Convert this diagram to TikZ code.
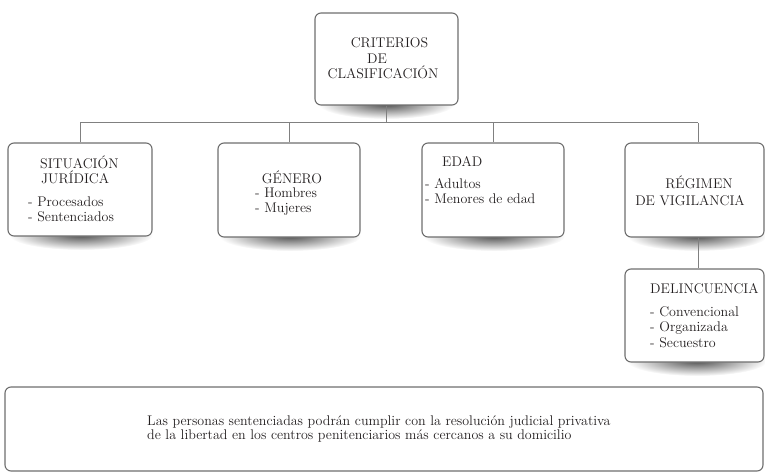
\documentclass[tikz,border=0pt]{standalone}
\definecolor{boxgray}{HTML}{6E6E6E}
\definecolor{linegray}{HTML}{808080}
\definecolor{txtgray}{HTML}{231F20}
\tikzset{
  box/.style={draw=boxgray, line width=1.1pt, rounded corners=6pt, fill=white, inner sep=0pt},
  txt/.style={inner sep=0pt, text=txtgray, font=\fontsize{14}{15}\selectfont},
  conn/.style={draw=linegray, line width=1pt},
  shad/.style={inner color=black!68, outer color=white},
}
\begin{document}
\begin{tikzpicture}[x=1pt,y=-1pt]
\useasboundingbox (0,0) rectangle (765,473);

% shadows
\shade[shad] (386.5,104) ellipse (68 and 15);
\shade[shad] (81,235) ellipse (72 and 15);
\shade[shad] (290,236) ellipse (71 and 15);
\shade[shad] (494,236) ellipse (71 and 15);
\shade[shad] (697,236) ellipse (70 and 15);
\shade[shad] (697,361) ellipse (70 and 15);

% junction coordinates
\coordinate (j0) at (386.5,123);
\coordinate (j1) at (80,123);
\coordinate (j2) at (289,123);
\coordinate (j3) at (493,123);
\coordinate (j4) at (698,123);

% boxes
\node[box, minimum width=143pt, minimum height=92pt] (top) at (386.5,59) {};
\node[box, minimum width=144pt, minimum height=93pt] (b1) at (80,189.5) {};
\node[box, minimum width=142pt, minimum height=94pt] (b2) at (289,190) {};
\node[box, minimum width=142pt, minimum height=94pt] (b3) at (493,190) {};
\node[box, minimum width=139pt, minimum height=94pt] (b4) at (694.5,190) {};
\node[box, minimum width=139pt, minimum height=93pt] (b5) at (694.5,315.5) {};
\node[box, minimum width=758pt, minimum height=84pt] (bot) at (384,429) {};

% connectors
\draw[conn] (top.south) -- (j0);
\draw[conn] (j1) -- (j4);
\draw[conn] (j1) -- (j1 |- b1.north);
\draw[conn] (j2) -- (j2 |- b2.north);
\draw[conn] (j3) -- (j3 |- b3.north);
\draw[conn] (j4) -- (j4 |- b4.north);
\draw[conn] (j4 |- b4.south) -- (j4 |- b5.north);

% texts
\node[txt, anchor=base] (t1) at (389.5,48) {CRITERIOS};
\node[txt, anchor=base] (t2) at (377,64) {DE};
\node[txt, anchor=base] (t3) at (383,79) {CLASIFICACIÓN};

\node[txt, anchor=base west] (s1) at (40,168) {SITUACIÓN};
\node[txt, anchor=base west] (s2) at (41,183) {JURÍDICA};
\node[txt, anchor=base west] (s3) at (28,206) {- Procesados};
\node[txt, anchor=base west] (s4) at (28,222) {- Sentenciados};

\node[txt, anchor=base] (g1) at (292,183) {GÉNERO};
\node[txt, anchor=base west] (g2) at (255,197) {- Hombres};
\node[txt, anchor=base west] (g3) at (255,212) {- Mujeres};

\node[txt, anchor=base west] (e1) at (442,167) {EDAD};
\node[txt, anchor=base west] (e2) at (425,189) {- Adultos};
\node[txt, anchor=base west] (e3) at (425,204) {- Menores de edad};

\node[txt, anchor=base] (r1) at (699,189) {RÉGIMEN};
\node[txt, anchor=base] (r2) at (690,205) {DE VIGILANCIA};

\node[txt, anchor=base west] (d1) at (650,293) {DELINCUENCIA};
\node[txt, anchor=base west] (d2) at (650,316) {- Convencional};
\node[txt, anchor=base west] (d3) at (650,331) {- Organizada};
\node[txt, anchor=base west] (d4) at (650,347) {- Secuestro};

\node[txt, anchor=base west] (p1) at (147,425) {Las personas sentenciadas podrán cumplir con la resolución judicial privativa};
\node[txt, anchor=base west] (p2) at (147,439) {de la libertad en los centros penitenciarios más cercanos a su domicilio};
\end{tikzpicture}
\end{document}
